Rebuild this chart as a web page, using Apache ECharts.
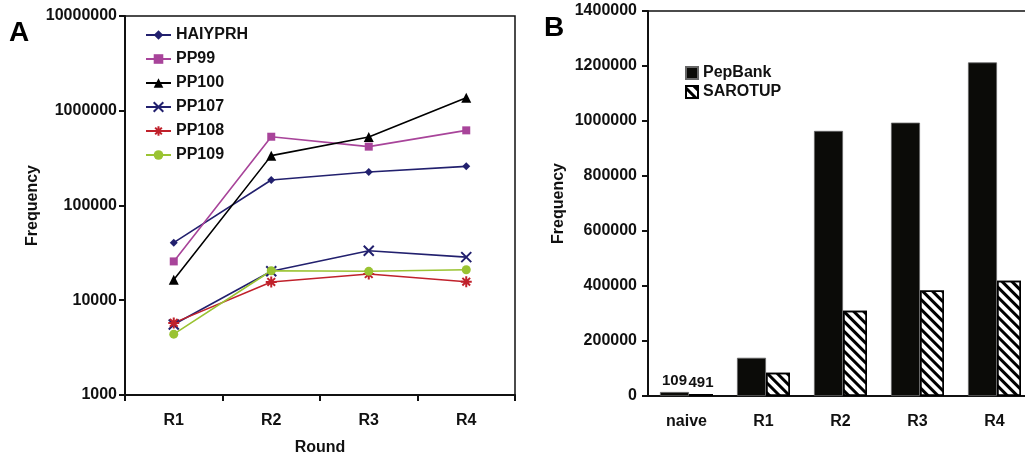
<!DOCTYPE html>
<html>
<head>
<meta charset="utf-8">
<script src="https://cdn.jsdelivr.net/npm/echarts@6/dist/echarts.min.js"></script>
<style>
  html, body { margin: 0; padding: 0; background: #fff; overflow: hidden; }
  #chart { width: 1025px; height: 456px; }
</style>
</head>
<body>
<div id="chart"></div>
<script>
// panel A: frequency by round (log scale)
const rounds = ['R1', 'R2', 'R3', 'R4']
const haiyprh = [40500, 186000, 226000, 259000]
const pp99 = [25700, 532000, 418000, 621000]
const pp100 = [16500, 336000, 528000, 1370000]
const pp107 = [5550, 20200, 33300, 28500]
const pp108 = [5770, 15600, 18900, 15700]
const pp109 = [4390, 20500, 20200, 21000]

// panel B: PepBank vs SAROTUP
const libs = ['naive', 'R1', 'R2', 'R3', 'R4']
const pepBank = [109, 139000, 964000, 994000, 1213000]
const sarotup = [491, 85000, 310000, 384000, 419000]

const FONT = '"Liberation Sans", Arial, sans-serif'
const txt = { color: '#111', fontWeight: 'bold', fontSize: 16, fontFamily: FONT }
const plain = v => String(v) // no thousands separators

const xPath = 'path://M0,0L10,10M10,0L0,10'
const starPath = 'path://M5,0L5,10M0,5L10,5M1.5,1.5L8.5,8.5M8.5,1.5L1.5,8.5'

function lineSeries (name, data, color, symbol, size, stroke) {
  return {
    name: name,
    type: 'line',
    xAxisIndex: 0,
    yAxisIndex: 0,
    data: data,
    symbol: symbol,
    symbolSize: size,
    showAllSymbol: true,
    lineStyle: { color: color, width: 1.6 },
    itemStyle: { color: color, borderColor: color, borderWidth: stroke || 0 }
  }
}

// diagonal stripes for SAROTUP
const hatch = {
  symbol: 'rect',
  symbolSize: 1,
  dashArrayX: [1, 0],
  dashArrayY: [3, 4],
  rotation: Math.PI / 4,
  color: '#000'
}

const chart = echarts.init(document.getElementById('chart'), null, { renderer: 'canvas' })

const option = {
  animation: false,
  textStyle: { fontFamily: FONT },
  graphic: [
    { type: 'text', left: 9, top: 19, style: { text: 'A', font: 'bold 28px ' + FONT, fill: '#000' } },
    { type: 'text', left: 544, top: 14, style: { text: 'B', font: 'bold 28px ' + FONT, fill: '#000' } }
  ],
  grid: [
    // fixed boxes, no auto shrinking for labels; panel B runs past the right edge
    { left: 125, top: 16, width: 390, height: 379, outerBoundsMode: 'none', containLabel: false, show: true, borderColor: '#111', borderWidth: 1.5, backgroundColor: 'transparent' },
    { left: 648, top: 11, width: 385, height: 385, outerBoundsMode: 'none', containLabel: false, show: true, borderColor: '#111', borderWidth: 1.5, backgroundColor: 'transparent' }
  ],
  legend: [
    {
      orient: 'vertical',
      left: 140,
      top: 22,
      itemWidth: 25,
      itemHeight: 12,
      itemGap: 8,
      textStyle: txt,
      data: ['HAIYPRH', 'PP99', 'PP100', 'PP107', 'PP108', 'PP109']
    },
    {
      orient: 'vertical',
      left: 680,
      top: 60,
      icon: 'rect',
      itemWidth: 12,
      itemHeight: 12,
      itemGap: 3,
      textStyle: txt,
      data: ['PepBank', 'SAROTUP']
    }
  ],
  xAxis: [
    {
      type: 'category',
      gridIndex: 0,
      data: rounds,
      name: 'Round',
      nameLocation: 'middle',
      nameGap: 45,
      nameTextStyle: txt,
      axisLine: { lineStyle: { color: '#111', width: 2 } },
      axisTick: { show: true, length: 6, lineStyle: { color: '#111', width: 2 } },
      axisLabel: Object.assign({ margin: 18 }, txt)
    },
    {
      type: 'category',
      gridIndex: 1,
      data: libs,
      axisLine: { lineStyle: { color: '#111', width: 2 } },
      axisTick: { show: false },
      axisLabel: Object.assign({ margin: 18 }, txt)
    }
  ],
  yAxis: [
    {
      type: 'log',
      gridIndex: 0,
      logBase: 10,
      min: 1000,
      max: 10000000,
      name: 'Frequency',
      nameLocation: 'middle',
      nameGap: 84,
      nameTextStyle: txt,
      axisLine: { show: true, lineStyle: { color: '#111', width: 2 } },
      axisTick: { show: true, length: 6, lineStyle: { color: '#111', width: 2 } },
      axisLabel: Object.assign({ margin: 8, formatter: plain }, txt),
      splitLine: { show: false },
      minorTick: { show: false }
    },
    {
      type: 'value',
      gridIndex: 1,
      min: 0,
      max: 1400000,
      interval: 200000,
      name: 'Frequency',
      nameLocation: 'middle',
      nameGap: 81,
      nameTextStyle: txt,
      axisLine: { show: true, lineStyle: { color: '#111', width: 2 } },
      axisTick: { show: true, length: 6, lineStyle: { color: '#111', width: 2 } },
      axisLabel: Object.assign({ margin: 11, formatter: plain }, txt),
      splitLine: { show: false }
    }
  ],
  series: [
    lineSeries('HAIYPRH', haiyprh, '#22206e', 'diamond', 8),
    lineSeries('PP99', pp99, '#a8449a', 'rect', 8),
    lineSeries('PP100', pp100, '#000000', 'triangle', 10),
    lineSeries('PP107', pp107, '#22206e', xPath, 10, 2),
    lineSeries('PP108', pp108, '#c0212b', starPath, 11, 2),
    lineSeries('PP109', pp109, '#9ac332', 'circle', 9),
    {
      name: 'PepBank',
      type: 'bar',
      xAxisIndex: 1,
      yAxisIndex: 1,
      data: pepBank,
      barWidth: 29,
      barGap: '0%',
      barMinHeight: 4,
      itemStyle: { color: '#0b0b08', borderColor: '#666', borderWidth: 0.8 },
      label: {
        show: true,
        position: 'top',
        distance: 4,
        color: '#111',
        fontWeight: 'bold',
        fontSize: 15,
        fontFamily: FONT,
        formatter: p => (p.dataIndex === 0 ? String(p.value) : '')
      }
    },
    {
      name: 'SAROTUP',
      type: 'bar',
      xAxisIndex: 1,
      yAxisIndex: 1,
      data: sarotup,
      barWidth: 24,
      barGap: '0%',
      barMinHeight: 2,
      itemStyle: {
        color: '#fff',
        borderColor: '#000',
        borderWidth: 1.5,
        decal: hatch
      },
      label: {
        show: true,
        position: 'top',
        distance: 4,
        color: '#111',
        fontWeight: 'bold',
        fontSize: 15,
        fontFamily: FONT,
        formatter: p => (p.dataIndex === 0 ? String(p.value) : '')
      }
    }
  ]
}

chart.setOption(option)
</script>
</body>
</html>
